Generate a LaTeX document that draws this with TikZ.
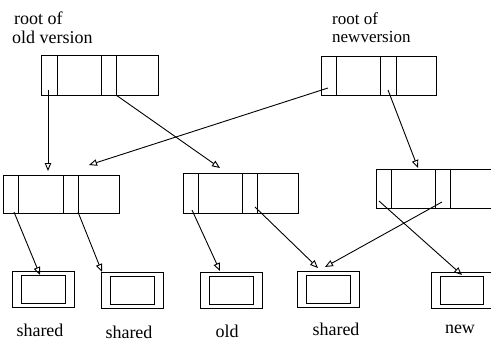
\documentclass[tikz,border=0pt]{standalone}
\usepackage{fontspec}
\setmainfont{Liberation Serif}
\usetikzlibrary{arrows.meta}
\tikzset{
  recbox/.style={draw, line width=0.9pt, inner sep=0pt, outer sep=0pt},
  divider/.style={line width=1pt},
  ptr/.style={line width=0.9pt, -{Triangle[open,length=8pt,width=6.5pt]}},
  lbl/.style={font=\fontsize{18}{20}\selectfont, inner sep=0pt, anchor=base},
}
\newcommand{\myrecord}[8]{%
  \node[recbox, minimum width={(#4-#2)*1pt}, minimum height={(#5-#3)*1pt}] (#1) at ({(#2+#4)/2},{(#3+#5)/2}) {};
  \draw[divider] (#6,#3) -- (#6,#5);
  \draw[divider] (#7,#3) -- (#7,#5);
  \draw[divider] (#8,#3) -- (#8,#5);
}
\newcommand{\mycell}[9]{%
  \node[recbox, minimum width={(#4-#2)*1pt}, minimum height={(#5-#3)*1pt}] (#1) at ({(#2+#4)/2},{(#3+#5)/2}) {};
  \node[recbox, line width=1pt, minimum width={(#8-#6)*1pt}, minimum height={(#9-#7)*1pt}] (#1in) at ({(#6+#8)/2},{(#7+#9)/2}) {};
}
\begin{document}
\begin{tikzpicture}[x=1pt,y=-1pt]
\useasboundingbox (0,0) rectangle (491,341);
% labels
\node[lbl, anchor=base west] (l1a) at (14,24) {root of};
\node[lbl, anchor=base west] (l1b) at (12,43) {old version};
\node[lbl, anchor=base west, font=\fontsize{17}{19}\selectfont] (l2a) at (332,24) {root of};
\node[lbl, anchor=base west, font=\fontsize{17}{19}\selectfont] (l2b) at (332,42) {newversion};
% records
\myrecord{tl}{41}{55}{158}{95}{57}{101}{116}
\myrecord{tr}{321}{56}{436}{95}{336}{380}{396}
\myrecord{ml}{3}{175}{119}{213}{18}{63}{78}
\myrecord{mm}{183}{173}{298}{213}{198}{242}{257}
\myrecord{mr}{376}{169}{500}{208}{391}{435}{450}
% leaves
\mycell{b1}{12}{271}{74}{307}{21}{275}{65}{303}
\mycell{b2}{101}{272}{163}{308}{110}{276}{154}{304}
\mycell{b3}{200}{272}{262}{308}{209}{276}{253}{304}
\mycell{b4}{297}{271}{359}{307}{306}{275}{350}{303}
\mycell{b5}{431}{272}{500}{308}{440}{276}{483}{304}
% leaf labels
\node[lbl] (t1) at (40,336) {shared};
\node[lbl] (t2) at (129,338) {shared};
\node[lbl] (t3) at (227,337) {old};
\node[lbl] (t4) at (336,335) {shared};
\node[lbl] (t5) at (460,333) {new};
% pointer coordinates
\coordinate (s1) at (48,90);   \coordinate (e1) at (48,171);
\coordinate (s2) at (116,95);  \coordinate (e2) at (220,168);
\coordinate (s3) at (328,88);  \coordinate (e3) at (89,165);
\coordinate (s4) at (388,90);  \coordinate (e4) at (418,168);
\coordinate (s5) at (14,212);  \coordinate (e5) at (40,275);
\coordinate (s6) at (78,212);  \coordinate (e6) at (102,272);
\coordinate (s7) at (192,210); \coordinate (e7) at (220,271);
\coordinate (s8) at (255,207); \coordinate (e8) at (318,268);
\coordinate (s9) at (442,202); \coordinate (e9) at (325,267);
\coordinate (s10) at (379,201);\coordinate (e10) at (462,275);
\foreach \i in {1,...,10} { \draw[ptr] (s\i) -- (e\i); }
\end{tikzpicture}
\end{document}
